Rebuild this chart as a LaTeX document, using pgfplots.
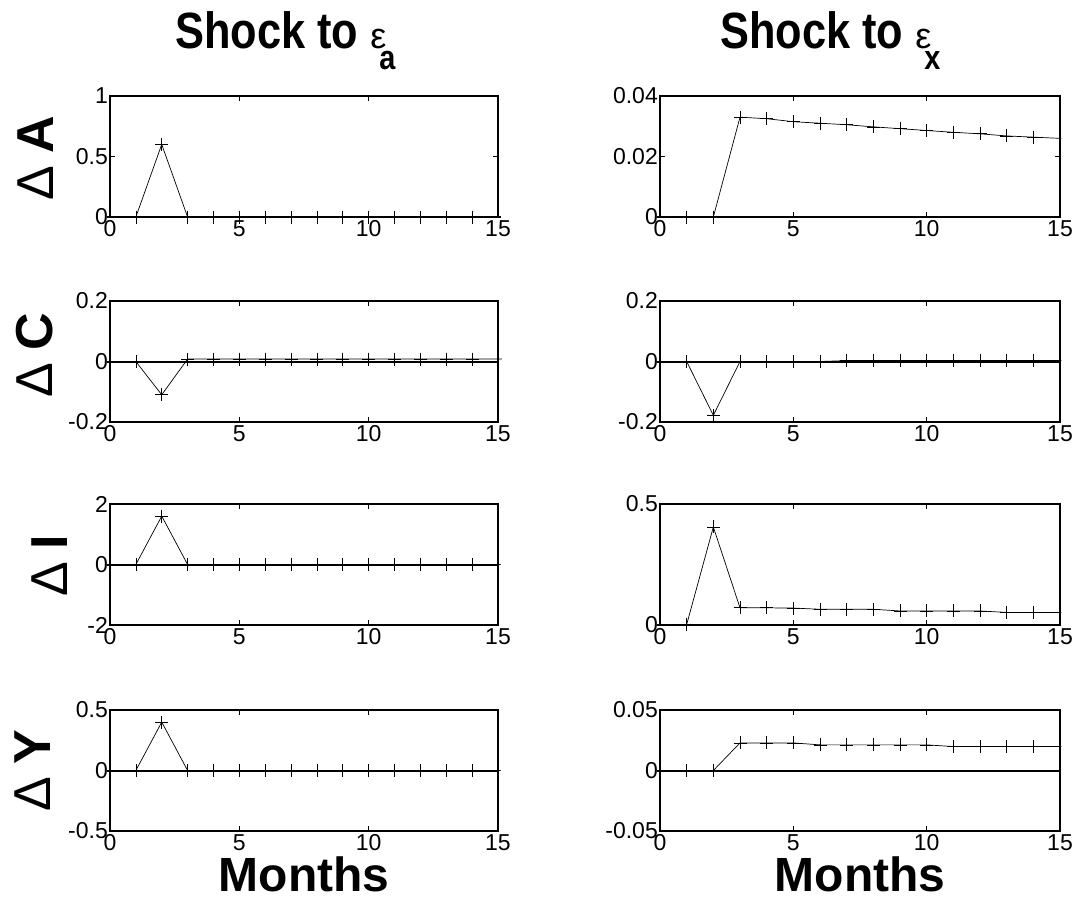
\documentclass[border=0pt]{standalone}
\usepackage{fontspec}
\setmainfont{Liberation Sans}
\newfontfamily\condfont[FakeStretch=0.85]{Liberation Sans}
\usepackage{pgfplots}
\pgfplotsset{compat=1.18}
\pgfplotsset{
  irf/.style={
    scale only axis, width=388pt, height=121pt, anchor=north west,
    xmin=0, xmax=15, xtick={0,5,10,15}, xticklabels={0,5,10,15},
    scaled y ticks=false, scaled x ticks=false,
    tick align=inside, major tick length=5pt,
    axis line style={line width=1.2pt},
    every tick/.style={black, line width=0.8pt},
    tick label style={font=\fontsize{23}{23}\selectfont, inner sep=2pt},
    xticklabel style={yshift=-1.5pt},
    clip=false,
  },
  ser/.style={black, line width=0.7pt, mark=+, mark size=6.5pt,
    mark options={line width=0.7pt},
    mark indices={1,2,3,4,5,6,7,8,9,10,11,12,13,14}},
  zero/.style={black, line width=2pt, no marks, forget plot},
}
\begin{document}
\begin{tikzpicture}
\path[use as bounding box] (0pt,0pt) rectangle (1076pt,-916pt);

% ---------- Row 1 ----------
\begin{axis}[irf, at={(110pt,-96pt)}, ymin=0, ymax=1, ytick={0,0.5,1}, yticklabels={0,0.5,1}]
\addplot[zero] coordinates {(-0.12,0)(15.1,0)};
\addplot[ser] coordinates {(1,0)(2,0.6)(3,0)(4,0)(5,0)(6,0)(7,0)(8,0)(9,0)(10,0)(11,0)(12,0)(13,0)(14,0)(15,0)(15.1,0)};
\end{axis}
\begin{axis}[irf, width=400pt, at={(660pt,-96pt)}, ymin=0, ymax=0.04, ytick={0,0.02,0.04}, yticklabels={0,0.02,0.04}]
\addplot[zero] coordinates {(-0.12,0)(15,0)};
\addplot[ser] coordinates {(1,0)(2,0)(3,0.033)(4,0.0325)(5,0.0315)(6,0.031)(7,0.0305)(8,0.0298)(9,0.0292)(10,0.0286)(11,0.028)(12,0.0275)(13,0.0268)(14,0.0264)(15,0.026)(15.05,0.026)};
\end{axis}

% ---------- Row 2 ----------
\begin{axis}[irf, at={(110pt,-301pt)}, ymin=-0.2, ymax=0.2, ytick={-0.2,0,0.2}, yticklabels={-0.2,0,0.2}]
\addplot[zero] coordinates {(-0.12,0)(15,0)};
\addplot[ser] coordinates {(1,0)(2,-0.11)(3,0.008)(4,0.008)(5,0.008)(6,0.008)(7,0.008)(8,0.008)(9,0.008)(10,0.008)(11,0.008)(12,0.008)(13,0.008)(14,0.008)(15,0.008)(15.15,0.008)};
\end{axis}
\begin{axis}[irf, width=400pt, at={(660pt,-301pt)}, ymin=-0.2, ymax=0.2, ytick={-0.2,0,0.2}, yticklabels={-0.2,0,0.2}]
\addplot[zero] coordinates {(-0.12,0)(15,0)};
\addplot[ser] coordinates {(1,0)(2,-0.178)(3,0)(4,0)(5,0)(6,0)(7,0.003)(8,0.003)(9,0.003)(10,0.003)(11,0.003)(12,0.003)(13,0.003)(14,0.003)(15,0.003)(15.05,0.003)};
\end{axis}

% ---------- Row 3 ----------
\begin{axis}[irf, at={(110pt,-504pt)}, ymin=-2, ymax=2, ytick={-2,0,2}, yticklabels={-2,0,2}]
\addplot[zero] coordinates {(-0.12,0)(15,0)};
\addplot[ser] coordinates {(1,0)(2,1.6)(3,0)(4,0)(5,0)(6,0)(7,0)(8,0)(9,0)(10,0)(11,0)(12,0)(13,0)(14,0)(15,0)(15.1,0)};
\end{axis}
\begin{axis}[irf, width=400pt, at={(660pt,-504pt)}, ymin=0, ymax=0.5, ytick={0,0.5}, yticklabels={0,0.5}]
\addplot[zero] coordinates {(-0.12,0)(15,0)};
\addplot[ser] coordinates {(1,0.002)(2,0.405)(3,0.071)(4,0.071)(5,0.07)(6,0.065)(7,0.065)(8,0.065)(9,0.058)(10,0.058)(11,0.058)(12,0.058)(13,0.052)(14,0.052)(15,0.052)(15.05,0.052)};
\end{axis}

% ---------- Row 4 ----------
\begin{axis}[irf, at={(110pt,-710pt)}, ymin=-0.5, ymax=0.5, ytick={-0.5,0,0.5}, yticklabels={-0.5,0,0.5}]
\addplot[zero] coordinates {(-0.12,0)(15,0)};
\addplot[ser] coordinates {(1,0)(2,0.4)(3,0)(4,0)(5,0)(6,0)(7,0)(8,0)(9,0)(10,0)(11,0)(12,0)(13,0)(14,0)(15,0)(15.1,0)};
\end{axis}
\begin{axis}[irf, width=400pt, at={(660pt,-710pt)}, ymin=-0.05, ymax=0.05, ytick={-0.05,0,0.05}, yticklabels={-0.05,0,0.05}]
\addplot[zero] coordinates {(-0.12,0)(15,0)};
\addplot[ser] coordinates {(1,0)(2,0)(3,0.0228)(4,0.0228)(5,0.0228)(6,0.0212)(7,0.0212)(8,0.0212)(9,0.0212)(10,0.0212)(11,0.0198)(12,0.0198)(13,0.0198)(14,0.0198)(15,0.0198)(15.05,0.0198)};
\end{axis}

% ---------- Titles ----------
\node[anchor=base west, inner sep=0pt] at (175pt,-48pt)
  {{\condfont\bfseries\fontsize{51}{51}\selectfont Shock to }{\fontsize{36}{36}\selectfont ε}\kern-7pt\raisebox{-21pt}{\condfont\bfseries\fontsize{34}{34}\selectfont a}};
\node[anchor=base west, inner sep=0pt] at (720pt,-48pt)
  {{\condfont\bfseries\fontsize{51}{51}\selectfont Shock to }{\fontsize{36}{36}\selectfont ε}\kern-7pt\raisebox{-21pt}{\condfont\bfseries\fontsize{34}{34}\selectfont x}};

% ---------- Y labels ----------
\node[rotate=90, anchor=base, inner sep=0pt, font=\fontsize{52}{52}\selectfont] at (53pt,-158pt) {Δ\hspace{12pt}\textbf{A}};
\node[rotate=90, anchor=base, inner sep=0pt, font=\fontsize{52}{52}\selectfont] at (52pt,-355pt) {Δ\hspace{12pt}\textbf{C}};
\node[rotate=90, anchor=base, inner sep=0pt, font=\fontsize{52}{52}\selectfont] at (67pt,-566pt) {Δ\hspace{12pt}\textbf{I}};
\node[rotate=90, anchor=base, inner sep=0pt, font=\fontsize{52}{52}\selectfont] at (50pt,-771pt) {Δ\hspace{12pt}\textbf{Y}};

% ---------- X labels ----------
\node[anchor=base, inner sep=0pt, font=\bfseries\fontsize{48}{48}\selectfont] at (304pt,-891pt) {Months};
\node[anchor=base, inner sep=0pt, font=\bfseries\fontsize{48}{48}\selectfont] at (860pt,-891pt) {Months};
\end{tikzpicture}
\end{document}
